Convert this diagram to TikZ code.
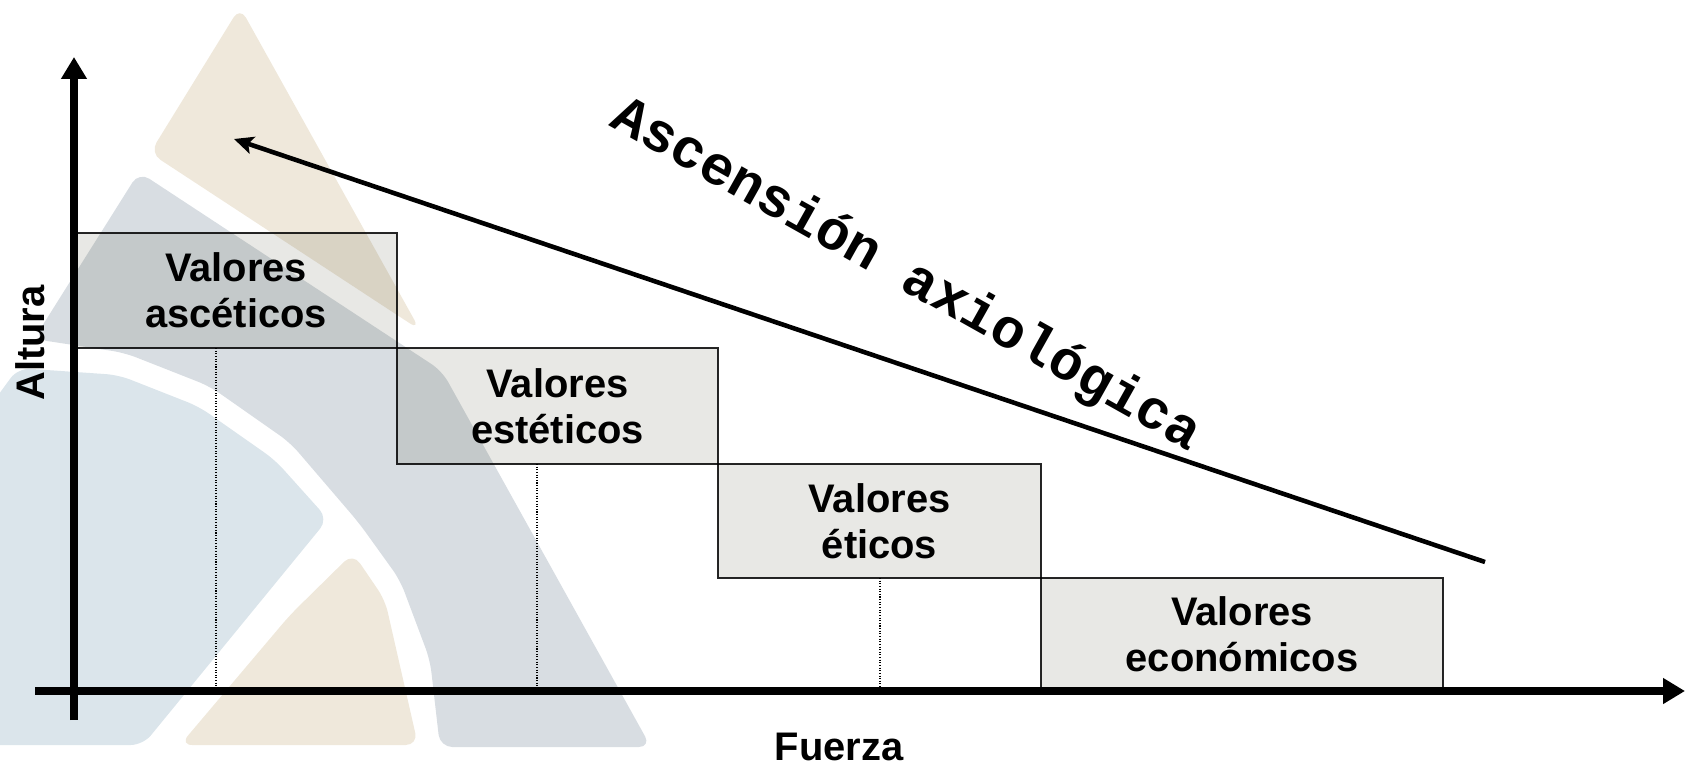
\documentclass[tikz,border=0pt]{standalone}
\usepackage{fontspec}
\setmainfont{Liberation Sans}
\newfontfamily\monob{Liberation Mono}
\usetikzlibrary{arrows.meta}
\definecolor{wbeige}{RGB}{239,232,219}
\definecolor{wblue}{RGB}{219,229,235}
\definecolor{wgray}{RGB}{216,221,226}
\definecolor{boxgray}{RGB}{232,232,229}
\tikzset{
  wm/.style={rounded corners=7pt},
  axis/.style={line width=4.5pt,-{Triangle[length=12.5pt,width=14pt]}},
  ascarrow/.style={line width=2.6pt,-{Stealth[length=11pt,width=10pt,inset=2.5pt]}},
  valbox/.style={draw=black!85,line width=0.8pt,fill=boxgray,inner sep=0pt,
     align=center,font=\fontsize{22.7}{26.4}\selectfont\bfseries},
  dotline/.style={line width=0.6pt,dash pattern=on 0.6pt off 0.9pt},
  axlabel/.style={font=\fontsize{22.7}{26.4}\selectfont\bfseries},
  asclabel/.style={font=\monob\fontsize{31.6}{34}\selectfont\bfseries}
}
\begin{document}
\begin{tikzpicture}[x=0.02cm,y=-0.02cm]
\path[use as bounding box] (0,0) rectangle (1691,768);
% watermark logo
\begin{scope}
\clip (0,0) rectangle (1691,768);
\fill[wbeige,wm] (240,7) -- (150,153) -- (420,330) -- cycle;
\fill[wgray,wm] (139,172) -- (442,371) -- (651,747) -- (440,747)
   -- (430,660) -- (400,580) -- (359,523)
   -- (290.3,442.8) -- (209.7,386.3) -- (124.6,352.8) -- (34,339) -- cycle;
\fill[wblue,wm] (-20,420) -- (18,368) -- (118.6,375) -- (198.9,406.6)
   -- (274.9,459.9) -- (328,519) -- (143,745) -- (-20,745) -- cycle;
\fill[wbeige,wm] (353,553) -- (385,600) -- (418,745) -- (180,745) -- (290,615) -- cycle;
\end{scope}
% boxes
\begin{scope}[blend mode=multiply]
\node[valbox,minimum width=6.44cm,minimum height=2.30cm] (b1) at (236,290.5) {Valores\\asc\'eticos};
\node[valbox,minimum width=6.42cm,minimum height=2.32cm] (b2) at (557.5,406) {Valores\\est\'eticos};
\node[valbox,minimum width=6.46cm,minimum height=2.28cm] (b3) at (879.5,521) {Valores\\\'eticos};
\node[valbox,minimum width=8.04cm,minimum height=2.26cm] (b4) at (1242,634.5) {Valores\\econ\'omicos};
\end{scope}
% axes
\coordinate (yb) at (74,720);
\coordinate (yt) at (74,57);
\coordinate (xo) at (35,691);
\coordinate (xe) at (1685,691);
\coordinate (d1) at (216,348);
\coordinate (d2) at (537,464);
\coordinate (d3) at (880,578);
\draw[dotline] (d1) -- (d1 |- xo);
\draw[dotline] (d2) -- (d2 |- xo);
\draw[dotline] (d3) -- (d3 |- xo);
\draw[axis] (yb) -- (yt);
\draw[axis] (xo) -- (xe);
% ascension arrow
\coordinate (as) at (1485,562);
\coordinate (ae) at (234,139);
\draw[ascarrow] (as) -- (ae);
% labels
\node[axlabel,rotate=90] (alt) at (30,343) {Altura};
\node[axlabel] (fue) at (839,747) {Fuerza};
\node[asclabel,rotate=-29.3] (asc) at (906,276) {Ascensi\'on axiol\'ogica};
\end{tikzpicture}
\end{document}
